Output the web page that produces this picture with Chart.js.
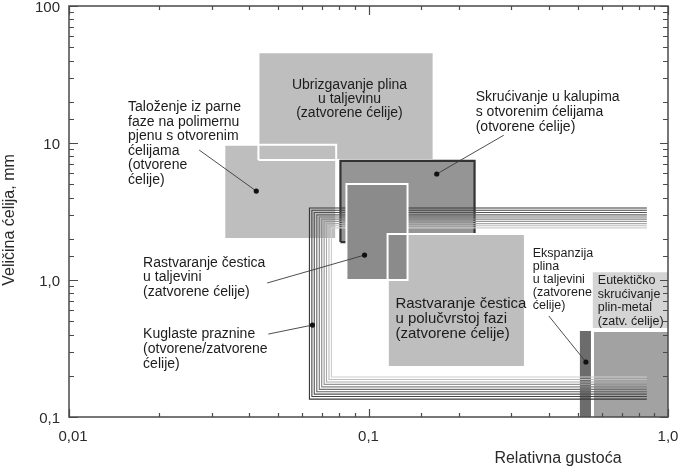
<!DOCTYPE html>
<html>
<head>
<meta charset="utf-8">
<script src="https://cdn.jsdelivr.net/npm/chart.js@4.4.0/dist/chart.umd.min.js"></script>
<style>
	body{margin:0;background:#fff;}
</style>
</head>
<body>
<canvas id="myChart1" width="680" height="468"></canvas>
<script>
// područja: relativna gustoća (x) i veličina ćelija u mm (y)
const boxNames = ['taloženje', 'ubrizgavanje', 'skrućivanje', 'ekspanzija', 'eutektičko', 'polučvrsto', 'taljevina'];
const boxXmin = [0.033, 0.0429, 0.0806, 0.508, 0.566, 0.1158, 0.0844];
const boxXmax = [0.078, 0.165, 0.226, 0.553, 1.0, 0.333, 0.135];
const boxYmin = [1.99, 7.52, 1.89, 0.1, 0.1, 0.232, 1.0];
const boxYmax = [9.7, 46, 7.4, 0.424, 0.417, 2.17, 5.02];

// podloga teksta za eutektičko
const noteBoxX = [0.561, 1.0];
const noteBoxY = [0.446, 1.14];

// kuglaste praznine - ugniježđene linije (otvorene desno)
const shellLeft = [0.0635, 0.0647, 0.0659, 0.0672, 0.0685, 0.0698, 0.0711, 0.0724, 0.0738, 0.0752];
const shellTop = [3.35, 3.23, 3.11, 2.99, 2.88, 2.78, 2.68, 2.58, 2.49, 2.40];
const shellBottom = [0.135, 0.141, 0.147, 0.153, 0.159, 0.166, 0.173, 0.180, 0.188, 0.196];
const shellRight = [0.85, 0.85, 0.85, 0.85, 0.85, 0.85, 0.85, 0.85, 0.85, 0.85];

// točke i početak pokazne linije
const dotX = [0.0422, 0.169, 0.097, 0.065, 0.532];
const dotY = [4.46, 5.94, 1.52, 0.469, 0.252];
const leadX = [0.0272, 0.283, 0.0459, 0.0463, 0.400];
const leadY = [8.89, 11.4, 0.951, 0.403, 0.546];

// natpisi
const noteLines = [
	['Taloženje iz parne', 'faze na polimernu', 'pjenu s otvorenim', 'ćelijama', '(otvorene', 'ćelije)'],
	['Ubrizgavanje plina', 'u taljevinu', '(zatvorene ćelije)'],
	['Skrućivanje u kalupima', 's otvorenim ćelijama', '(otvorene ćelije)'],
	['Rastvaranje čestica', 'u taljevini', '(zatvorene ćelije)'],
	['Kuglaste praznine', '(otvorene/zatvorene', 'ćelije)'],
	['Rastvaranje čestica', 'u polučvrstoj fazi', '(zatvorene ćelije)'],
	['Ekspanzija', 'plina', 'u taljevini', '(zatvorene', 'ćelije)'],
	['Eutektičko', 'skrućivanje', 'plin-metal', '(zatv. ćelije)']
];
const noteX = [0.01575, 0.0864, 0.228, 0.01768, 0.01768, 0.123, 0.3536, 0.583];
const noteY = [18.3, 26.5, 21.7, 1.33, 0.403, 0.668, 1.55, 0.984];

const xTickValues = [0.01, 0.1, 1];
const xTickLabels = ['0,01', '0,1', '1,0'];
const yTickValues = [0.1, 1, 10, 100];
const yTickLabels = ['0,1', '1,0', '10', '100'];

const FONT = '"Liberation Sans", Arial, sans-serif';
const noteStyle = [
	{size: 14, gap: 14.6, align: 'left'},
	{size: 14, gap: 14, align: 'center'},
	{size: 14, gap: 15, align: 'left'},
	{size: 14, gap: 14.5, align: 'left'},
	{size: 14, gap: 15, align: 'left'},
	{size: 15, gap: 14.7, align: 'left'},
	{size: 12.5, gap: 13, align: 'left'},
	{size: 12.5, gap: 13.4, align: 'left'}
];
const shellColors = ['#383838', '#444444', '#525252', '#626262', '#727272', '#848484', '#969696', '#a9a9a9', '#bcbcbc', '#cecece'];

function rectPts(x0, x1, y0, y1){
	return [{x: x0, y: y0}, {x: x1, y: y0}, {x: x1, y: y1}, {x: x0, y: y1}, {x: x0, y: y0}];
}

function boxSet(i, fillColor, lineColor, lineWidth){
	return {
		data: rectPts(boxXmin[i], boxXmax[i], boxYmin[i], boxYmax[i]),
		showLine: true,
		fill: fillColor ? 'shape' : false,
		backgroundColor: fillColor || 'rgba(0,0,0,0)',
		borderColor: lineColor || 'rgba(0,0,0,0)',
		borderWidth: lineWidth || 1,
		borderJoinStyle: 'miter',
		pointRadius: 0
	};
}

function isMajor(v){
	let l = Math.log10(v);
	return Math.abs(l - Math.round(l)) < 1e-6;
}

let sets = [];
sets.push(boxSet(0, '#bebebe'));
sets.push(boxSet(1, '#bebebe', '#ffffff', 2));
sets.push(boxSet(0, null, '#ffffff', 2));
sets.push(boxSet(2, '#959595', '#333333', 2.2));
sets.push(boxSet(3, '#6c6c6c'));
sets.push(boxSet(4, '#a2a2a2'));
sets.push({
	data: rectPts(noteBoxX[0], noteBoxX[1], noteBoxY[0], noteBoxY[1]),
	showLine: true, fill: 'shape', backgroundColor: '#d4d4d4',
	borderColor: 'rgba(0,0,0,0)', borderWidth: 1, pointRadius: 0
});
for(let i = 0; i < shellLeft.length; i++){
	sets.push({
		data: [
			{x: shellRight[i], y: shellTop[i]},
			{x: shellLeft[i], y: shellTop[i]},
			{x: shellLeft[i], y: shellBottom[i]},
			{x: shellRight[i], y: shellBottom[i]}
		],
		showLine: true, fill: false,
		borderColor: shellColors[i], borderWidth: 1.1,
		borderJoinStyle: 'miter', pointRadius: 0
	});
}
sets.push(boxSet(5, '#bebebe', '#ffffff', 2));
sets.push(boxSet(6, '#8b8b8b', '#ffffff', 2));
sets.push(boxSet(5, null, '#ffffff', 2));
for(let i = 0; i < dotX.length; i++){
	sets.push({
		data: [{x: leadX[i], y: leadY[i]}, {x: dotX[i], y: dotY[i]}],
		showLine: true, fill: false,
		borderColor: '#3a3a3a', borderWidth: 0.9, pointRadius: 0
	});
}
sets.push({
	data: dotX.map((v, i) => ({x: v, y: dotY[i]})),
	showLine: false,
	pointRadius: 2.6,
	pointBackgroundColor: '#111',
	pointBorderWidth: 0
});
// kasniji skup se crta iznad
sets.forEach((s, i) => { s.order = -i; });

const frame = {
	id: 'frame',
	afterDatasetsDraw(chart){
		const ctx = chart.ctx;
		const a = chart.chartArea;
		const sx = chart.scales.x;
		const sy = chart.scales.y;
		ctx.save();
		ctx.fillStyle = '#1c1c1c';
		ctx.textBaseline = 'middle';

		//natpisi
		for(let i = 0; i < noteLines.length; i++){
			let st = noteStyle[i];
			ctx.font = st.size + 'px ' + FONT;
			ctx.textAlign = st.align;
			let px = sx.getPixelForValue(noteX[i]);
			let py = sy.getPixelForValue(noteY[i]);
			noteLines[i].forEach((t, k) => ctx.fillText(t, px, py + k * st.gap));
		}

		//okvir
		ctx.strokeStyle = '#4a4a4a';
		ctx.lineWidth = 1.5;
		ctx.strokeRect(a.left, a.top, a.right - a.left, a.bottom - a.top);

		ctx.lineWidth = 1.2;
		ctx.beginPath();
		sx.ticks.forEach(t => {
			let px = Math.round(sx.getPixelForValue(t.value)) + 0.5;
			let m = isMajor(t.value);
			ctx.moveTo(px, a.bottom); ctx.lineTo(px, a.bottom - (m ? 8 : 4));
			ctx.moveTo(px, a.top); ctx.lineTo(px, a.top + (m ? 9 : 4));
		});
		sy.ticks.forEach(t => {
			let py = Math.round(sy.getPixelForValue(t.value)) + 0.5;
			let m = isMajor(t.value);
			ctx.moveTo(a.left, py); ctx.lineTo(a.left + (m ? 9 : 5), py);
			ctx.moveTo(a.right, py); ctx.lineTo(a.right - (m ? 8 : 5), py);
		});
		ctx.stroke();

		//oznake osi
		ctx.fillStyle = '#2a2a2a';
		ctx.font = '15px ' + FONT;
		ctx.textAlign = 'center';
		xTickValues.forEach((v, i) => {
			ctx.fillText(xTickLabels[i], sx.getPixelForValue(v) + (i == 0 ? 4 : 0), a.bottom + 20);
		});
		ctx.textAlign = 'right';
		yTickValues.forEach((v, i) => {
			ctx.fillText(yTickLabels[i], a.left - 9, sy.getPixelForValue(v) + 2);
		});

		ctx.font = '16px ' + FONT;
		ctx.textAlign = 'center';
		ctx.fillText('Relativna gustoća', 558, 459);
		ctx.translate(10, 220);
		ctx.rotate(-Math.PI / 2);
		ctx.fillText('Veličina ćelija, mm', 0, 0);
		ctx.restore();
	}
};

let myChart1 = new Chart(document.getElementById('myChart1'), {
	type: 'scatter',
	data: {datasets: sets},
	options: {
		responsive: false,
		animation: false,
		devicePixelRatio: 1,
		events: [],
		layout: {padding: {left: 69, right: 12, top: 6, bottom: 51}},
		plugins: {legend: {display: false}, tooltip: {enabled: false}},
		scales: {
			x: {
				type: 'logarithmic', min: 0.01, max: 1,
				grid: {display: false}, border: {display: false},
				ticks: {display: false},
				afterFit: s => { s.height = 0; }
			},
			y: {
				type: 'logarithmic', min: 0.1, max: 100,
				grid: {display: false}, border: {display: false},
				ticks: {display: false},
				afterFit: s => { s.width = 0; }
			}
		}
	},
	plugins: [frame]
});
</script>
</body>
</html>
